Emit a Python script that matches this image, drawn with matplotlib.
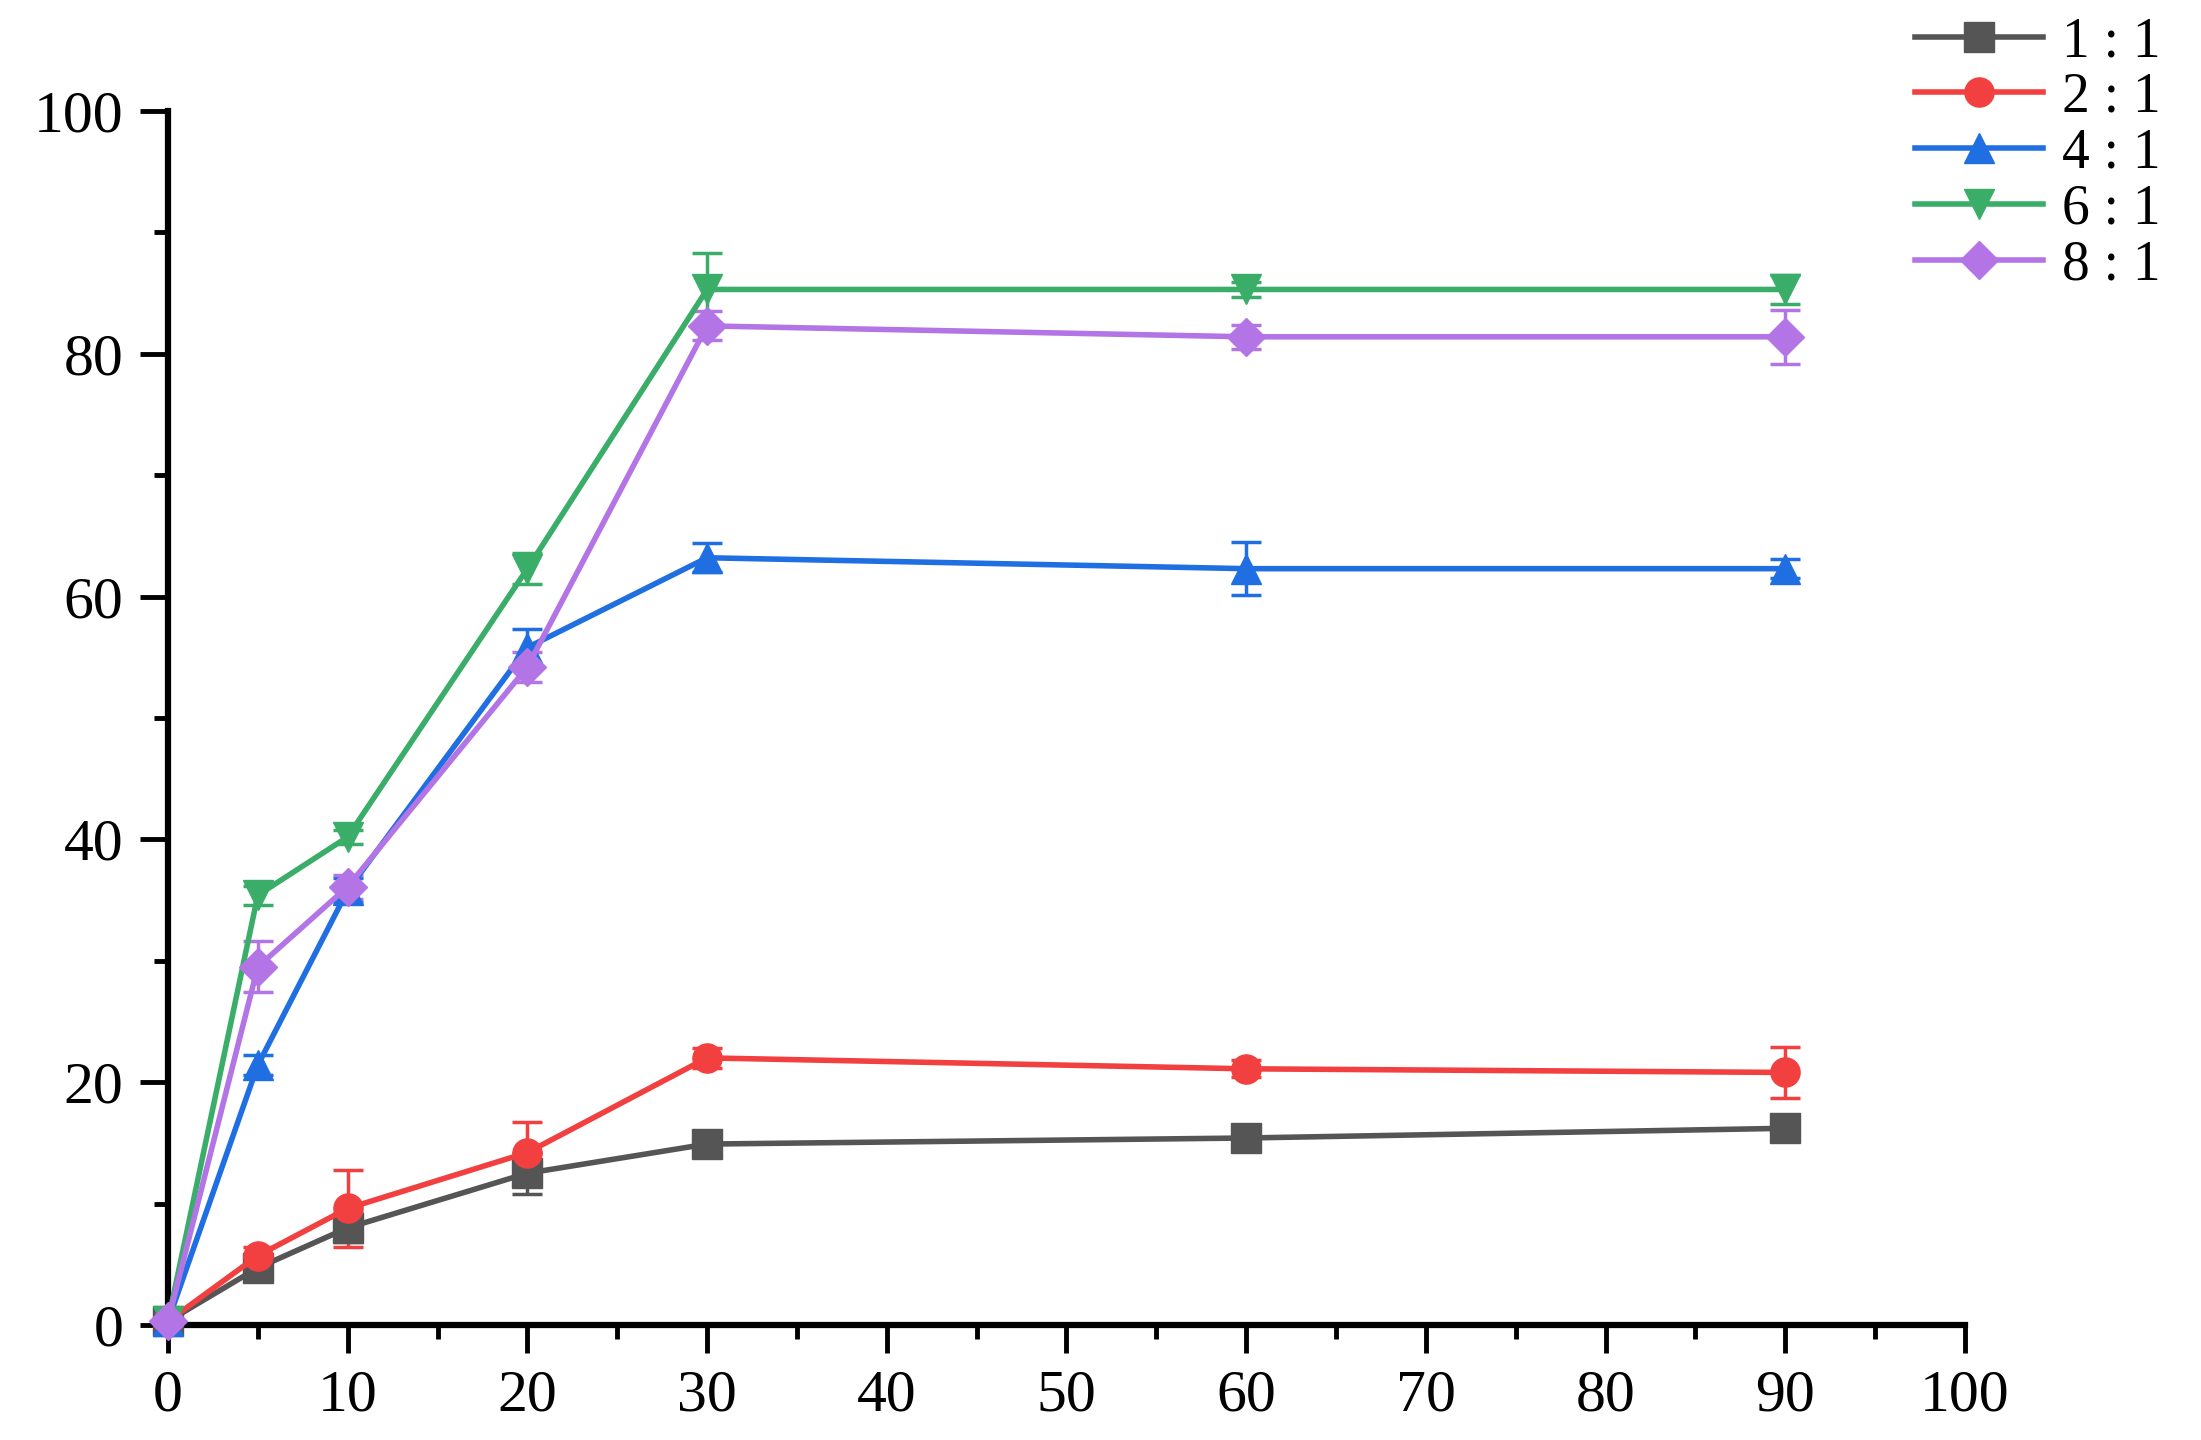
import matplotlib
matplotlib.use("Agg")
import matplotlib.pyplot as plt
from matplotlib.ticker import MultipleLocator
from matplotlib.lines import Line2D

x = [0, 5, 10, 20, 30, 60, 90]
labels = ["1 : 1", "2 : 1", "4 : 1", "6 : 1", "8 : 1"]
y_11 = [0.3, 4.7, 8.0, 12.5, 14.9, 15.4, 16.2]
e_11 = [0.2, 0.6, 1.2, 1.7, 0.6, 0.6, 0.6]
y_21 = [0.3, 5.7, 9.6, 14.2, 22.0, 21.1, 20.8]
e_21 = [0.2, 0.7, 3.2, 2.5, 0.8, 0.7, 2.1]
y_41 = [0.3, 21.4, 35.8, 55.8, 63.2, 62.3, 62.3]
e_41 = [0.2, 0.8, 1.0, 1.5, 1.2, 2.2, 0.8]
y_61 = [0.3, 35.4, 40.2, 62.3, 85.3, 85.3, 85.3]
e_61 = [0.2, 0.8, 0.6, 1.3, 3.0, 0.6, 1.2]
y_81 = [0.3, 29.5, 36.1, 54.2, 82.3, 81.4, 81.4]
e_81 = [0.2, 2.1, 1.0, 1.2, 1.2, 1.0, 2.2]

series = [y_11, y_21, y_41, y_61, y_81]
errors = [e_11, e_21, e_41, e_61, e_81]
colors = ["#555555", "#f23f3f", "#1f6fe3", "#3aae69", "#b374e6"]
markers = ["s", "o", "^", "v", "D"]
msizes = [21, 21, 22, 22, 19]

plt.rcParams["font.family"] = ["Liberation Serif", "DejaVu Serif"]

fig = plt.figure(figsize=(22.01, 14.40), dpi=100)
ax = fig.add_axes([0.0763, 0.0799, 0.8165, 0.8430])

handles = []
for ys, es, c, m, ms, lab in zip(series, errors, colors, markers, msizes, labels):
    ax.errorbar(x, ys, yerr=es, color=c, marker=m, markersize=ms, lw=4.0,
                elinewidth=2.5, capsize=11, capthick=2.5,
                clip_on=False, zorder=3)
    handles.append(Line2D([], [], color=c, marker=m, markersize=ms, lw=4.0))

ax.set_xlim(0, 100)
ax.set_ylim(0, 100)
ax.xaxis.set_major_locator(MultipleLocator(10))
ax.xaxis.set_minor_locator(MultipleLocator(5))
ax.yaxis.set_major_locator(MultipleLocator(20))
ax.yaxis.set_minor_locator(MultipleLocator(10))

for s in ["top", "right"]:
    ax.spines[s].set_visible(False)
for s in ["left", "bottom"]:
    ax.spines[s].set_linewidth(4.5)
    ax.spines[s].set_color("black")

ax.tick_params(which="major", direction="out", length=20, width=3.5,
               labelsize=43, pad=12)
ax.tick_params(which="minor", direction="out", length=10, width=3.5)

leg = fig.legend(handles=handles, labels=labels, loc="upper right",
                 bbox_to_anchor=(0.997, 1.012), frameon=False, fontsize=40,
                 handlelength=2.3, labelspacing=0.07, handletextpad=0.35,
                 borderaxespad=0.2)

fig.savefig("out.png", dpi=100)
